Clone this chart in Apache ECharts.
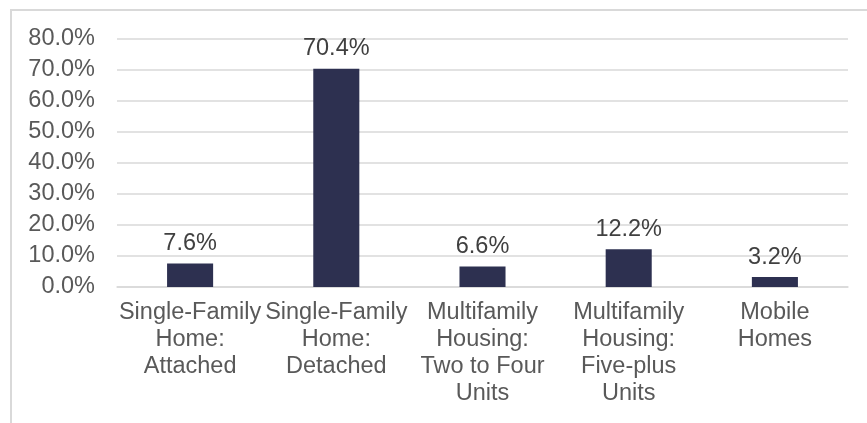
<!DOCTYPE html>
<html><head><meta charset="utf-8">
<script src="https://cdn.jsdelivr.net/npm/echarts@6/dist/echarts.min.js"></script>
<style>html,body{margin:0;padding:0;background:#fff}#c{width:867px;height:423px}</style>
</head><body><div id="c"></div>
<script>
const categories = ["Single-Family\nHome:\nAttached", "Single-Family\nHome:\nDetached", "Multifamily\nHousing:\nTwo to Four\nUnits", "Multifamily\nHousing:\nFive-plus\nUnits", "Mobile\nHomes"];
const values = [7.6, 70.4, 6.6, 12.2, 3.2];
const yTicks = { min: 0, max: 80, interval: 10 };

const chart = echarts.init(document.getElementById('c'), null, {renderer: 'canvas'});
const font = 'Liberation Sans, Arial, sans-serif';
chart.setOption({
  animation: false,
  graphic: [{type: 'rect', shape: {x: 11, y: 10, width: 1000, height: 600}, style: {fill: 'none', stroke: '#d9d9d9', lineWidth: 2}, silent: true}],
  grid: {left: 117, right: 19, top: 39, bottom: 136},
  xAxis: {
    type: 'category', data: categories,
    axisLine: {lineStyle: {color: '#d9d9d9', width: 1.5}},
    axisTick: {show: false},
    axisLabel: {interval: 0, color: '#595959', fontFamily: font, fontSize: 23.5, lineHeight: 27, margin: 12}
  },
  yAxis: {
    type: 'value', min: yTicks.min, max: yTicks.max, interval: yTicks.interval,
    axisLine: {show: false}, axisTick: {show: false},
    splitLine: {lineStyle: {color: '#d9d9d9', width: 1.5}},
    axisLabel: {color: '#595959', fontFamily: font, fontSize: 23.5, margin: 22, formatter: v => v.toFixed(1) + '%'}
  },
  series: [{
    type: 'bar', data: values, barWidth: '31.5%',
    itemStyle: {color: '#2d3050'},
    label: {show: true, position: 'top', distance: 8, color: '#404040', fontFamily: font, fontSize: 23.5, formatter: p => p.value.toFixed(1) + '%'}
  }]
});
</script></body></html>
